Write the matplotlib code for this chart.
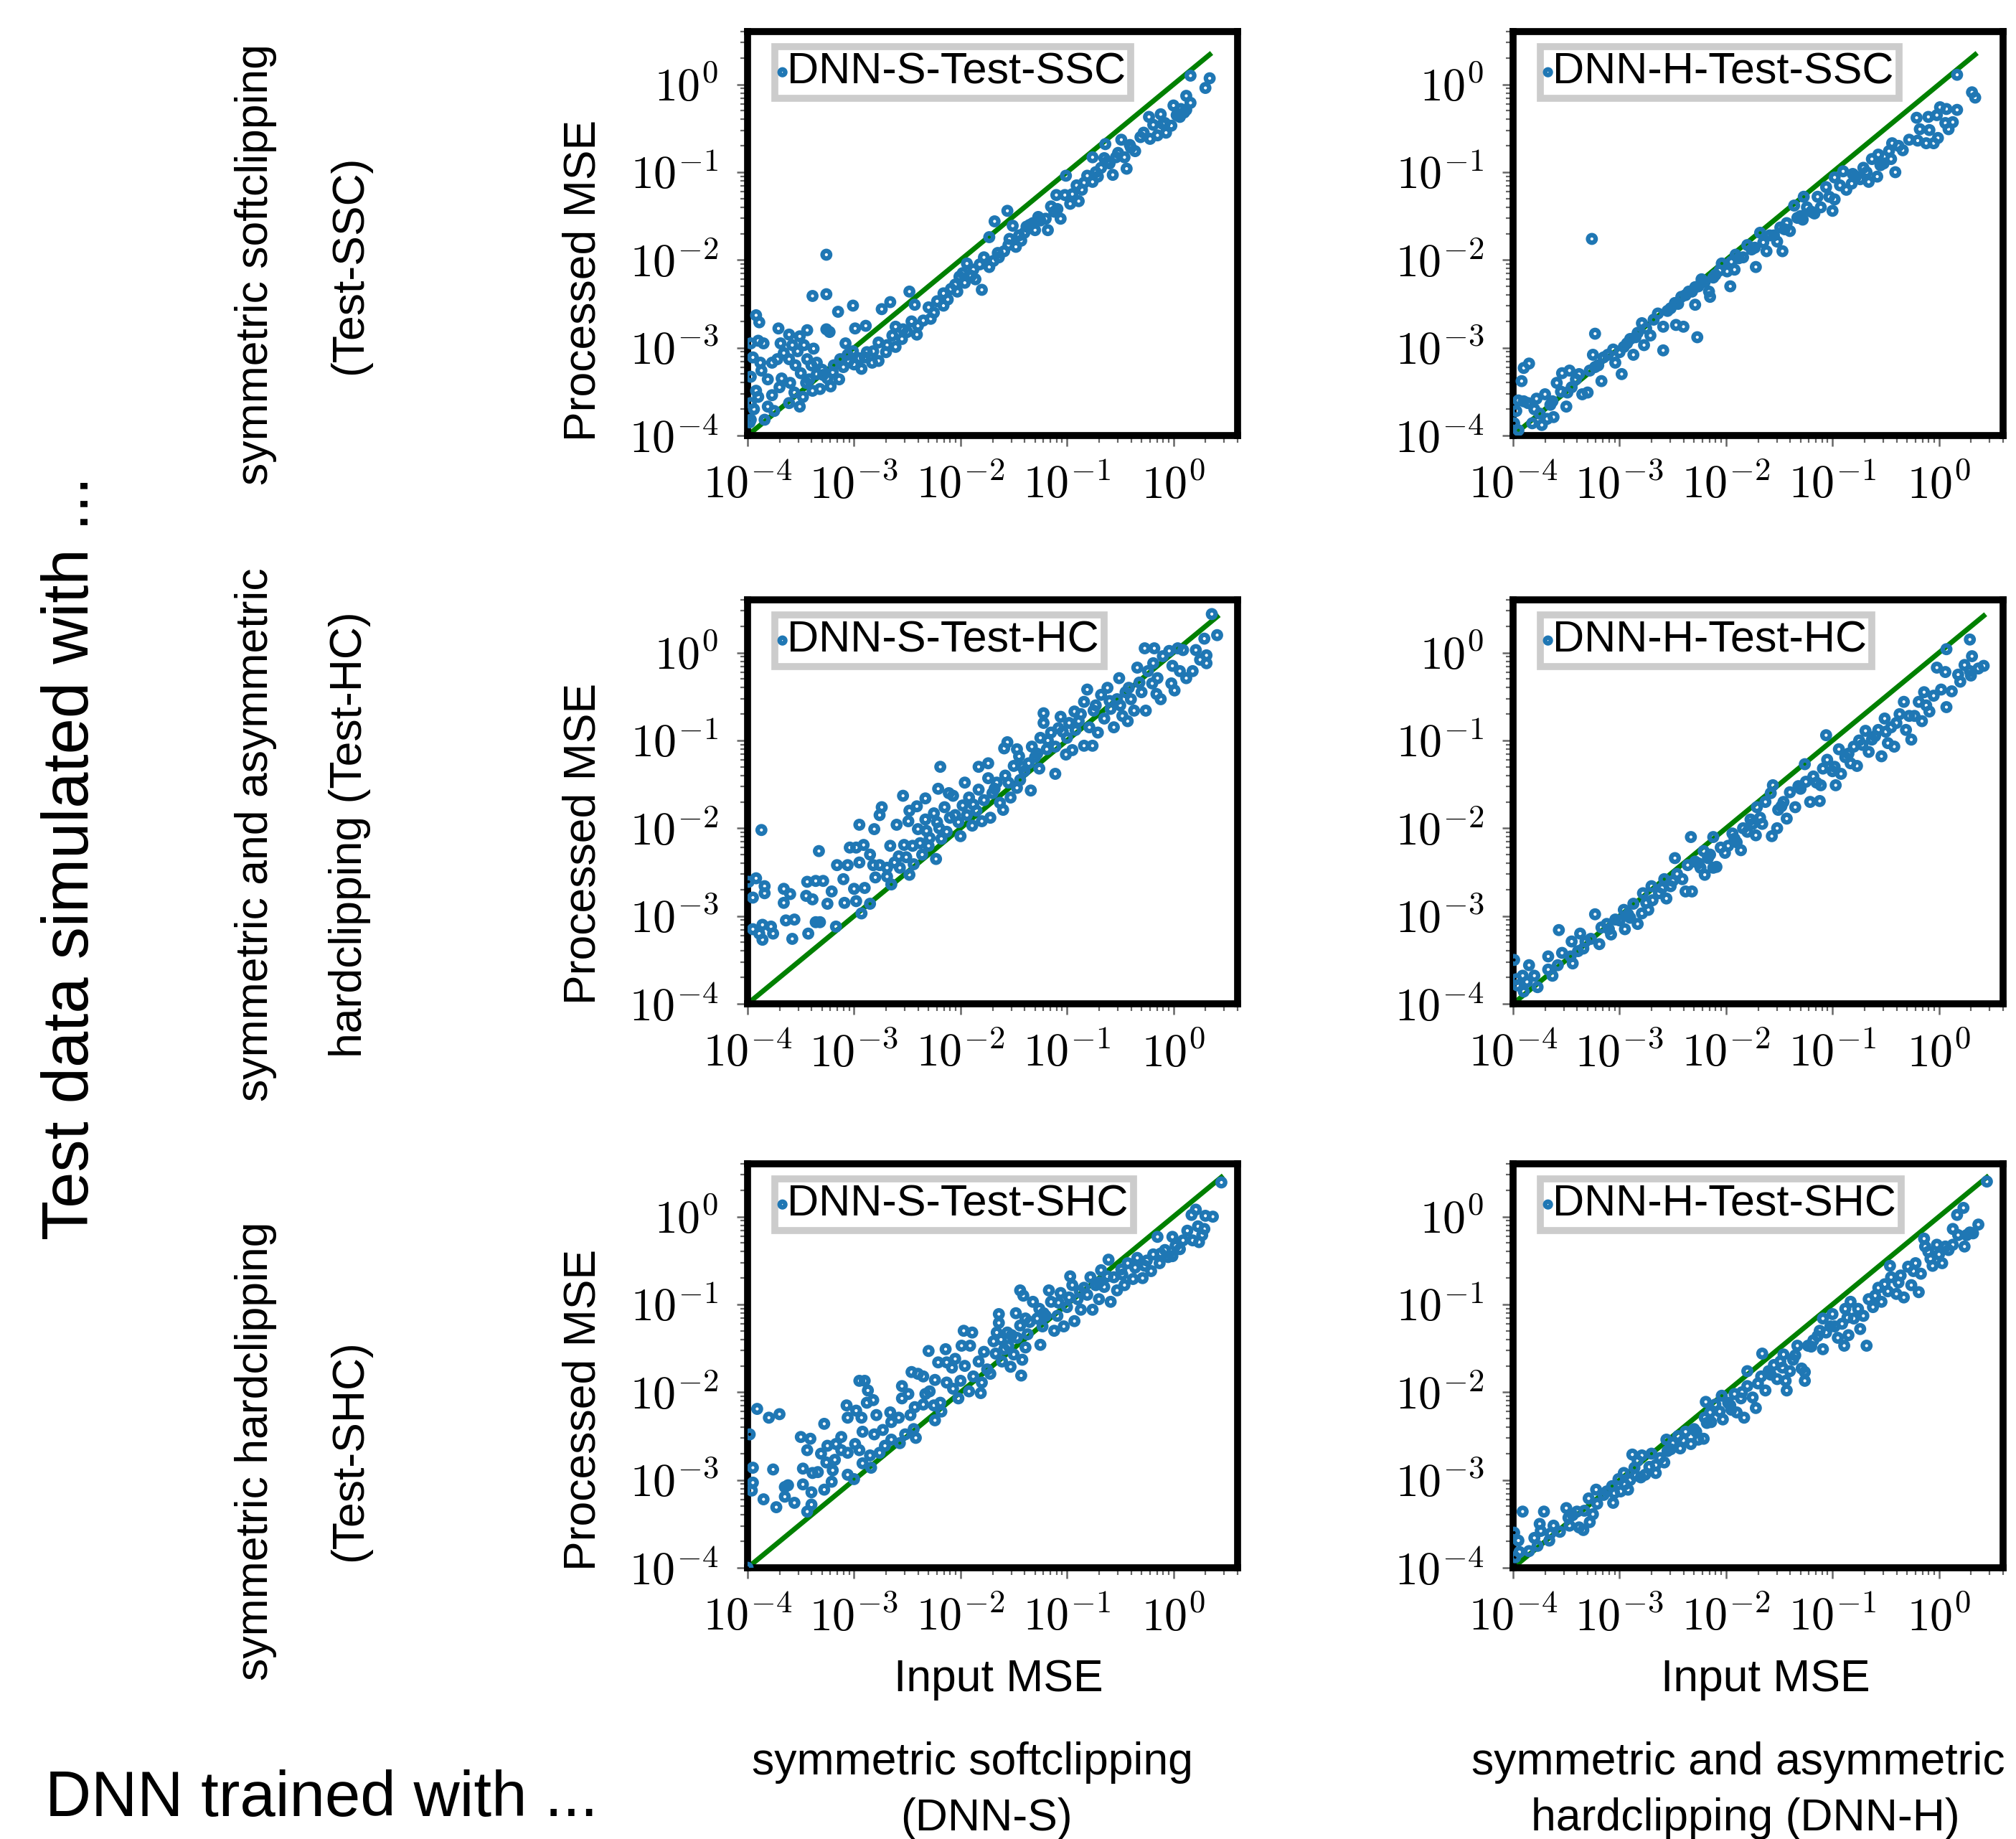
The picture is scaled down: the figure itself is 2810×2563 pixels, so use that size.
import numpy as np
import matplotlib
matplotlib.use('Agg')
from matplotlib import pyplot as plt
from matplotlib.ticker import LogLocator, FuncFormatter, NullFormatter

# (log10 input MSE, log10 processed MSE)
s_ssc = [(-3.26,-1.94),(-3.39,-2.41),(-3.26,-2.39),(-3.15,-2.59),(-3.01,-2.52),(-3.92,-2.63),(-3.89,-2.71),
    (-3.71,-2.78),(-3.61,-2.85),(-3.44,-2.80),(-3.51,-2.87),(-3.26,-2.79),(-3.23,-2.82),(-2.99,-2.78),(-2.89,-2.75),
    (-2.74,-2.56),(-2.66,-2.48),(-2.48,-2.36),(-2.43,-2.51),(-1.80,-2.34),(-1.56,-1.44),(-1.68,-1.56),(-0.64,-0.68),
    (-0.44,-0.96),(0.16,0.10),(0.30,-0.04),(0.34,0.07),(-1.01,-1.04),
    (-3.98,-3.85),(-3.97,-3.82),(-3.84,-3.82),(-3.97,-3.33),(-3.95,-3.11),(-3.97,-2.95),(-3.90,-2.92),(-3.85,-2.95),
    (-3.88,-3.17),(-3.92,-3.49),(-3.90,-3.56),(-3.97,-3.63),(-3.94,-3.70),(-3.87,-3.26),(-3.81,-3.36),(-3.77,-3.17),
    (-3.72,-3.13),(-3.69,-2.95),(-3.66,-3.06),(-3.61,-3.13),(-3.68,-3.35),(-3.77,-3.54),(-3.81,-3.67),(-3.75,-3.72),
    (-3.61,-3.63),(-3.51,-3.67),(-3.56,-3.51),(-3.48,-3.56),(-3.50,-3.29),(-3.53,-3.04),(-3.47,-2.97),(-3.58,-2.97),
    (-3.44,-3.13),(-3.38,-3.01),(-3.35,-3.17),(-3.39,-3.49),(-3.32,-3.47),(-3.42,-3.36),(-3.29,-3.31),(-3.22,-3.44),
    (-3.14,-3.36),(-3.19,-3.20),(-3.13,-3.13),(-3.06,-3.08),(-3.08,-2.95),(-3.00,-3.19),(-3.01,-3.04),(-2.93,-3.24),
    (-2.90,-3.11),(-2.83,-3.17),(-2.77,-3.15),(-2.82,-3.04),(-2.77,-2.94),(-2.69,-2.97),(-2.61,-2.99),(-2.64,-2.86),
    (-2.54,-2.79),(-2.61,-2.76),(-2.46,-2.70),(-2.41,-2.85),(-2.35,-2.69),(-2.30,-2.54),(-2.28,-2.67),(-2.22,-2.47),
    (-2.16,-2.52),(-2.16,-2.38),(-2.09,-2.33),(-2.03,-2.36),(-2.01,-2.19),(-1.96,-2.26),(-1.94,-2.04),(-1.88,-2.11),
    (-1.86,-2.22),(-1.78,-1.97),(-1.73,-2.08),(-1.69,-2.01),(-1.73,-1.74),(-1.64,-1.97),(-1.59,-1.90),(-1.54,-1.76),
    (-1.51,-1.61),(-1.48,-1.85),(-1.43,-1.78),(-1.40,-1.69),(-1.35,-1.60),(-1.30,-1.66),(-1.27,-1.51),(-1.18,-1.66),
    (-1.20,-1.53),(-1.15,-1.39),(-1.09,-1.42),(-1.06,-1.53),(-1.10,-1.26),(-1.02,-1.26),(-0.97,-1.36),(-0.89,-1.33),
    (-0.91,-1.15),(-0.86,-1.20),(-0.81,-1.04),(-0.76,-1.11),(-0.76,-0.83),(-0.71,-1.05),(-0.68,-0.95),(-0.65,-0.84),
    (-0.60,-0.90),(-0.57,-1.03),(-0.54,-0.83),(-0.49,-0.63),(-0.46,-0.83),(-0.41,-0.69),(-0.36,-0.76),(-0.31,-0.60),
    (-0.22,-0.62),(-0.23,-0.37),(-0.19,-0.46),(-0.15,-0.58),(-0.12,-0.34),(-0.07,-0.55),(-0.08,-0.44),(0.00,-0.24),
    (-0.02,-0.47),(0.06,-0.37),(0.07,-0.28),(0.12,-0.29),(0.12,-0.13),(0.16,-0.21),
    (-3.30,-3.25),(-3.20,-3.28),(-3.10,-3.22),(-3.05,-3.15),(-2.95,-3.12),(-2.88,-3.05),(-2.70,-3.05),(-2.55,-2.90),
    (-2.50,-2.82),(-2.40,-2.75),(-2.25,-2.60),(-2.12,-2.45),(-2.05,-2.28),(-1.98,-2.15),(-1.90,-2.18),(-1.82,-2.05),
    (-1.65,-1.92),(-1.55,-1.83),(-1.45,-1.72),(-1.38,-1.62),(-1.32,-1.58),(-1.25,-1.55),(-1.12,-1.45),(-0.95,-1.25),
    (-0.84,-1.12),(-0.73,-1.00),(-0.62,-0.88),(-0.52,-0.78),(-0.40,-0.72),(-0.28,-0.55),(-0.10,-0.45),(0.03,-0.35),
    (0.10,-0.32),(-3.60,-3.40),(-3.70,-3.45),(-3.55,-3.20),(-3.45,-3.40),(-3.40,-3.20),(-3.25,-3.35),(-3.35,-3.30)]

h_ssc = [(-3.26,-1.76),(-3.23,-2.84),(-2.27,-2.88),(-2.59,-3.03),(-3.85,-3.18),(-3.90,-3.23),(-3.92,-3.38),
    (-2.98,-3.30),(-2.29,-2.51),(-1.96,-2.30),(-1.47,-1.90),(-1.00,-1.44),(-0.41,-1.00),(0.17,0.11),(0.31,-0.09),
    (0.34,-0.15),(-0.05,-0.67),
    (-3.99,-3.86),(-3.95,-3.94),(-3.97,-3.72),(-3.95,-3.60),(-3.90,-3.61),(-3.86,-3.63),(-3.82,-3.86),(-3.73,-3.88),
    (-3.78,-3.58),(-3.70,-3.53),(-3.68,-3.81),(-3.62,-3.79),(-3.63,-3.61),(-3.59,-3.40),(-3.54,-3.29),(-3.50,-3.67),
    (-3.49,-3.51),(-3.47,-3.26),(-3.41,-3.36),(-3.35,-3.53),(-3.30,-3.51),(-3.28,-3.26),(-3.25,-3.08),(-3.23,-3.22),
    (-3.17,-3.38),(-3.15,-3.11),(-3.11,-3.08),(-3.06,-3.02),(-3.04,-3.17),(-2.96,-2.99),(-2.90,-2.90),(-2.87,-3.08),
    (-2.83,-2.83),(-2.79,-2.72),(-2.77,-2.97),(-2.71,-2.86),(-2.64,-2.61),(-2.59,-2.76),(-2.55,-2.58),(-2.48,-2.49),
    (-2.47,-2.74),(-2.40,-2.76),(-2.42,-2.42),(-2.35,-2.36),(-2.29,-2.31),(-2.23,-2.22),(-2.16,-2.36),(-2.15,-2.42),
    (-2.10,-2.17),(-2.04,-2.04),(-1.99,-2.13),(-1.92,-2.11),(-1.91,-1.94),(-1.84,-1.97),(-1.80,-1.83),(-1.73,-1.86),
    (-1.72,-2.08),(-1.68,-1.69),(-1.62,-1.90),(-1.59,-1.72),(-1.52,-1.79),(-1.49,-1.63),(-1.43,-1.58),(-1.40,-1.67),
    (-1.36,-1.38),(-1.33,-1.52),(-1.28,-1.54),(-1.27,-1.28),(-1.24,-1.40),(-1.17,-1.47),(-1.14,-1.28),(-1.11,-1.40),
    (-1.06,-1.17),(-1.03,-1.28),(-0.98,-1.31),(-0.98,-1.06),(-0.90,-0.99),(-0.87,-1.20),(-0.82,-1.13),(-0.81,-1.02),
    (-0.74,-1.08),(-0.71,-0.95),(-0.66,-1.11),(-0.63,-0.85),(-0.58,-1.05),(-0.57,-0.80),(-0.52,-0.90),(-0.47,-0.76),
    (-0.44,-0.67),(-0.38,-0.70),(-0.34,-0.75),(-0.28,-0.63),(-0.21,-0.38),(-0.20,-0.64),(-0.18,-0.51),(-0.12,-0.67),
    (-0.10,-0.37),(-0.09,-0.52),(-0.02,-0.35),(-0.01,-0.61),(0.01,-0.26),(0.06,-0.44),(0.07,-0.28),(0.09,-0.51),
    (0.13,-0.43),(0.17,-0.29),
    (-3.80,-3.70),(-3.75,-3.75),(-3.65,-3.65),(-3.55,-3.50),(-3.45,-3.45),(-3.38,-3.30),(-3.20,-3.20),(-3.00,-3.05),
    (-2.93,-2.95),(-2.85,-2.88),(-2.75,-2.78),(-2.68,-2.68),(-2.52,-2.55),(-2.45,-2.50),(-2.38,-2.40),(-2.32,-2.36),
    (-2.26,-2.30),(-2.20,-2.25),(-2.12,-2.20),(-2.06,-2.12),(-1.95,-2.02),(-1.88,-1.98),(-1.76,-1.88),(-1.65,-1.80),
    (-1.55,-1.72),(-1.45,-1.65),(-1.30,-1.50),(-1.20,-1.45),(-0.93,-1.15),(-0.78,-1.05),(-0.68,-1.00),(-0.55,-0.92),
    (-0.45,-0.85)]

s_hc = [(-3.87,-2.02),(-3.99,-2.61),(-3.92,-2.57),(-3.95,-2.79),(-3.84,-2.66),(-3.84,-2.74),(-3.95,-3.15),
    (-3.86,-3.10),(-3.89,-3.20),(-3.86,-3.27),(-3.78,-3.12),(-3.76,-3.20),(-3.66,-2.69),(-3.60,-2.75),(-3.66,-2.85),
    (-3.64,-3.05),(-3.56,-3.04),(-3.58,-3.26),(-3.43,-3.20),(-3.33,-2.26),(-3.44,-2.61),(-3.45,-2.77),(-3.39,-2.81),
    (-3.36,-2.60),(-3.29,-2.60),(-3.36,-3.07),(-3.32,-3.07),(-3.25,-2.86),(-3.21,-2.72),(-3.17,-3.12),(-3.16,-2.42),
    (-3.06,-2.42),(-3.10,-2.58),(-3.09,-2.85),(-3.04,-2.22),(-2.98,-2.22),(-3.00,-2.69),(-2.98,-2.83),(-2.93,-2.97),
    (-2.91,-2.19),(-2.95,-1.96),(-2.95,-2.39),(-2.90,-2.68),(-2.85,-2.86),(-2.85,-2.30),(-2.82,-2.42),(-2.80,-2.56),
    (-2.81,-2.01),(-2.76,-1.85),(-2.74,-1.76),(-2.76,-2.42),(-2.69,-2.45),(-2.69,-2.55),(-2.66,-2.20),(-2.65,-2.64),
    (-2.62,-2.39),(-2.58,-2.32),(-2.60,-1.96),(-2.57,-2.45),(-2.54,-1.63),(-2.53,-2.19),(-2.51,-2.33),(-2.49,-1.92),
    (-2.48,-1.80),(-2.48,-2.53),(-2.44,-2.41),(-2.41,-1.75),(-2.40,-2.01),(-2.38,-2.17),(-2.36,-2.30),(-2.33,-1.90),
    (-2.33,-1.66),(-2.32,-2.03),(-2.29,-2.11),(-2.25,-1.83),(-2.23,-2.35),(-2.22,-1.93),(-2.21,-1.55),(-2.19,-1.30),
    (-2.18,-2.12),(-2.15,-1.76),(-2.13,-2.04),(-2.11,-1.60),(-2.10,-1.88),(-2.07,-1.63),(-2.02,-1.93),(-2.00,-2.09),
    (-1.98,-1.74),(-1.96,-1.48),(-1.94,-1.85),(-1.89,-1.97),(-1.88,-1.73),(-1.83,-1.30),(-1.83,-1.56),(-1.80,-1.92),
    (-1.78,-1.68),(-1.74,-1.26),(-1.74,-1.43),(-1.72,-1.88),(-1.70,-1.60),(-1.66,-1.48),(-1.63,-1.71),(-1.60,-1.79),
    (-1.59,-1.09),(-1.56,-1.02),(-1.55,-1.48),(-1.53,-1.65),(-1.50,-1.29),(-1.47,-1.10),(-1.47,-1.54),(-1.45,-1.18),
    (-1.44,-1.45),(-1.40,-1.35),(-1.36,-1.26),(-1.34,-1.57),(-1.33,-1.07),(-1.30,-1.19),(-1.26,-1.32),(-1.25,-0.97),
    (-1.22,-0.69),(-1.22,-0.80),(-1.19,-1.10),(-1.15,-0.91),(-1.11,-1.38),(-1.11,-1.07),(-1.08,-0.86),(-1.06,-0.73),
    (-1.01,-1.16),(-1.00,-0.97),(-0.95,-1.11),(-0.93,-0.67),(-0.92,-0.88),(-0.89,-0.78),(-0.84,-0.56),(-0.84,-1.06),
    (-0.81,-0.42),(-0.79,-0.85),(-0.76,-1.06),(-0.75,-0.66),(-0.71,-0.91),(-0.68,-0.48),(-0.65,-0.75),(-0.62,-0.40),
    (-0.59,-0.64),(-0.56,-0.85),(-0.53,-0.53),(-0.51,-0.29),(-0.48,-0.72),(-0.45,-0.45),(-0.43,-0.78),(-0.40,-0.53),
    (-0.37,-0.66),(-0.34,-0.17),(-0.32,-0.34),(-0.27,0.05),(-0.26,-0.66),(-0.24,-0.21),(-0.19,-0.12),(-0.18,0.05),
    (-0.16,-0.47),(-0.15,-0.29),(-0.12,-0.53),(-0.10,-0.04),(-0.04,0.02),(-0.02,-0.35),(-0.01,-0.15),(0.01,-0.43),
    (0.04,0.05),(0.06,-0.21),(0.09,0.03),(0.12,-0.29),(0.18,-0.21),(0.21,0.03),(0.25,-0.08),(0.29,0.16),(0.31,-0.03),
    (0.31,-0.12),(0.36,0.44),(0.41,0.20),
    (-2.45,-2.20),(-2.30,-2.20),(-2.20,-2.00),(-2.05,-1.85),(-1.92,-1.65),(-1.85,-1.80),(-1.68,-1.55),(-1.58,-1.40),
    (-1.42,-1.30),(-1.28,-1.15),(-1.18,-1.00),(-1.04,-0.90),(-0.98,-0.80),(-0.87,-0.70),(-0.73,-0.60),(-0.60,-0.55),
    (-0.50,-0.60),(-0.42,-0.40),(-0.30,-0.45),(-0.20,-0.35)]

h_hc = [(-3.99,-3.50),(-3.97,-3.72),(-3.96,-3.79),(-3.91,-3.68),(-3.90,-3.86),(-3.87,-3.75),(-3.85,-3.56),
    (-3.80,-3.68),(-3.77,-3.81),(-3.67,-3.46),(-3.67,-3.61),(-3.63,-3.68),(-3.57,-3.16),(-3.58,-3.56),(-3.54,-3.42),
    (-3.45,-3.29),(-3.46,-3.46),(-3.44,-3.54),(-3.39,-3.40),(-3.37,-3.20),(-3.34,-3.37),(-3.32,-3.29),(-3.27,-3.26),
    (-3.23,-2.98),(-3.19,-3.32),(-3.17,-3.13),(-3.12,-3.09),(-3.08,-3.21),(-3.04,-3.04),(-2.96,-2.93),(-2.95,-3.15),
    (-2.90,-3.02),(-2.87,-2.86),(-2.83,-3.09),(-2.79,-2.97),(-2.78,-2.74),(-2.73,-2.93),(-2.70,-2.66),(-2.69,-2.82),
    (-2.63,-2.74),(-2.58,-2.58),(-2.56,-2.80),(-2.52,-2.66),(-2.48,-2.34),(-2.46,-2.52),(-2.41,-2.58),(-2.38,-2.72),
    (-2.36,-2.42),(-2.32,-2.72),(-2.33,-2.10),(-2.29,-2.38),(-2.24,-2.45),(-2.21,-2.26),(-2.20,-2.53),(-2.17,-2.34),
    (-2.12,-2.10),(-2.12,-2.45),(-2.09,-2.44),(-2.01,-2.28),(-1.98,-2.20),(-1.94,-2.06),(-1.90,-2.16),(-1.86,-2.25),
    (-1.84,-2.00),(-1.80,-2.04),(-1.77,-1.90),(-1.72,-2.08),(-1.71,-1.76),(-1.66,-1.95),(-1.63,-1.70),(-1.58,-1.60),
    (-1.57,-2.09),(-1.56,-1.51),(-1.52,-2.00),(-1.51,-1.79),(-1.46,-1.70),(-1.43,-1.89),(-1.40,-1.59),(-1.35,-1.76),
    (-1.32,-1.52),(-1.26,-1.27),(-1.25,-1.47),(-1.21,-1.70),(-1.18,-1.41),(-1.12,-1.69),(-1.11,-1.51),(-1.09,-1.32),
    (-1.06,-0.94),(-1.05,-1.22),(-1.00,-1.35),(-0.97,-1.51),(-0.94,-1.10),(-0.92,-1.38),(-0.88,-1.19),(-0.83,-1.26),
    (-0.80,-1.07),(-0.77,-1.29),(-0.75,-1.00),(-0.69,-0.89),(-0.66,-1.13),(-0.63,-0.99),(-0.57,-0.88),(-0.54,-1.18),
    (-0.51,-0.75),(-0.48,-1.03),(-0.45,-0.85),(-0.42,-1.07),(-0.37,-0.70),(-0.33,-0.56),(-0.31,-0.88),(-0.26,-0.99),
    (-0.23,-0.72),(-0.19,-0.56),(-0.16,-0.78),(-0.14,-0.45),(-0.09,-0.67),(-0.05,-0.49),(0.02,-0.42),(-0.02,-0.17),
    (0.06,-0.22),(0.07,0.04),(0.07,-0.62),(0.12,-0.44),(0.18,-0.25),(0.20,-0.33),(0.24,-0.14),(0.29,-0.21),
    (0.30,-0.26),(0.29,0.15),(0.31,-0.04),(0.37,-0.18),(0.42,-0.15),
    (-3.10,-3.15),(-3.00,-3.05),(-2.92,-2.98),(-2.75,-2.85),(-2.60,-2.68),(-2.50,-2.60),(-2.26,-2.40),(-2.15,-2.30),
    (-2.05,-2.22),(-1.92,-2.12),(-1.75,-1.95),(-1.68,-1.88),(-1.48,-1.75),(-1.30,-1.55),(-1.15,-1.48),(-0.98,-1.30),
    (-0.85,-1.15),(-0.72,-1.05),(-0.60,-0.95),(-0.50,-0.90),(-0.40,-0.80),(-0.28,-0.72),(-0.12,-0.60)]

s_shc = [(-4.00,-4.00),(-3.98,-2.48),(-3.95,-2.86),(-3.95,-3.03),(-3.96,-3.12),(-3.91,-2.19),(-3.85,-3.22),
    (-3.80,-2.29),(-3.76,-2.88),(-3.73,-3.31),(-3.70,-2.25),(-3.65,-3.19),(-3.65,-3.08),(-3.62,-3.06),(-3.56,-3.26),
    (-3.50,-2.51),(-3.48,-2.87),(-3.48,-3.05),(-3.44,-2.66),(-3.44,-3.36),(-3.41,-2.53),(-3.40,-3.14),(-3.40,-3.28),
    (-3.39,-2.92),(-3.34,-2.91),(-3.31,-2.70),(-3.28,-2.36),(-3.28,-3.11),(-3.26,-2.80),(-3.25,-2.61),(-3.21,-3.02),
    (-3.20,-2.89),(-3.18,-2.77),(-3.17,-2.59),(-3.12,-2.51),(-3.12,-2.66),(-3.07,-2.15),(-3.06,-2.69),(-3.06,-2.29),
    (-3.06,-2.94),(-3.00,-2.99),(-2.99,-2.59),(-2.98,-2.21),(-2.95,-1.87),(-2.95,-2.66),(-2.93,-2.29),(-2.92,-2.81),
    (-2.92,-2.45),(-2.90,-1.87),(-2.88,-2.12),(-2.87,-1.98),(-2.85,-2.72),(-2.84,-2.86),(-2.82,-2.09),(-2.81,-2.48),
    (-2.79,-2.26),(-2.76,-2.69),(-2.73,-2.43),(-2.71,-2.61),(-2.66,-2.23),(-2.65,-2.54),(-2.65,-2.34),(-2.58,-2.29),
    (-2.57,-2.58),(-2.55,-1.93),(-2.55,-2.07),(-2.52,-2.48),(-2.49,-2.02),(-2.47,-2.26),(-2.46,-1.77),(-2.44,-2.42),
    (-2.43,-2.17),(-2.42,-2.52),(-2.40,-1.79),(-2.35,-1.82),(-2.35,-2.14),(-2.33,-2.02),(-2.30,-1.53),(-2.29,-1.99),
    (-2.25,-2.15),(-2.24,-2.32),(-2.24,-1.86),(-2.21,-1.66),(-2.19,-2.12),(-2.18,-2.22),(-2.14,-1.51),(-2.13,-1.89),
    (-2.13,-1.66),(-2.08,-1.72),(-2.07,-1.96),(-2.05,-1.62),(-2.02,-2.07),(-2.00,-1.87),(-1.99,-1.47),(-1.97,-1.30),
    (-1.96,-1.70),(-1.92,-1.99),(-1.91,-1.47),(-1.89,-1.32),(-1.88,-1.82),(-1.83,-1.65),(-1.81,-2.01),(-1.80,-1.89),
    (-1.78,-1.54),(-1.75,-1.74),(-1.72,-1.79),(-1.69,-1.42),(-1.67,-1.56),(-1.66,-1.32),(-1.64,-1.11),(-1.64,-1.21),
    (-1.61,-1.65),(-1.59,-1.51),(-1.56,-1.32),(-1.55,-1.47),(-1.53,-1.71),(-1.50,-1.57),(-1.48,-1.10),(-1.47,-1.38),
    (-1.44,-1.24),(-1.43,-1.81),(-1.42,-1.63),(-1.39,-1.16),(-1.39,-1.49),(-1.37,-1.34),(-1.44,-0.84),(-1.41,-0.90),
    (-1.32,-0.97),(-1.28,-1.16),(-1.26,-1.05),(-1.25,-1.46),(-1.23,-1.25),(-1.20,-1.13),(-1.17,-0.84),(-1.15,-0.97),
    (-1.12,-1.30),(-1.09,-1.13),(-1.06,-0.87),(-1.03,-1.25),(-1.00,-1.03),(-0.97,-0.68),(-0.95,-0.78),(-0.93,-1.19),
    (-0.90,-0.94),(-0.87,-1.06),(-0.84,-0.81),(-0.81,-0.89),(-0.78,-0.69),(-0.76,-1.06),(-0.73,-0.78),(-0.70,-0.94),
    (-0.68,-0.61),(-0.65,-0.80),(-0.61,-0.49),(-0.59,-0.97),(-0.56,-0.69),(-0.53,-0.84),(-0.49,-0.60),(-0.46,-0.78),
    (-0.43,-0.53),(-0.38,-0.71),(-0.34,-0.47),(-0.29,-0.70),(-0.27,-0.56),(-0.21,-0.62),(-0.19,-0.43),(-0.15,-0.23),
    (-0.13,-0.53),(-0.08,-0.38),(-0.05,-0.46),(-0.01,-0.23),(-0.01,-0.45),(0.06,-0.37),(0.09,-0.27),(0.13,-0.16),
    (0.17,0.02),(0.18,-0.27),(0.21,0.08),(0.23,-0.11),(0.24,-0.29),(0.27,-0.21),(0.29,-0.14),(0.30,0.01),(0.37,0.00),
    (0.45,0.39),
    (-1.62,-1.40),(-1.52,-1.35),(-1.35,-1.20),(-1.22,-1.10),(-1.08,-0.98),(-0.98,-0.92),(-0.88,-0.85),(-0.70,-0.75),
    (-0.62,-0.68),(-0.48,-0.66),(-0.36,-0.58),(-0.25,-0.50),(-0.12,-0.42),(0.02,-0.33)]

h_shc = [(-3.99,-3.60),(-3.95,-3.69),(-3.98,-3.88),(-3.94,-3.82),(-3.91,-3.36),(-3.85,-3.81),(-3.80,-3.66),
    (-3.77,-3.75),(-3.75,-3.50),(-3.74,-3.58),(-3.71,-3.36),(-3.66,-3.69),(-3.65,-3.61),(-3.62,-3.52),(-3.56,-3.59),
    (-3.50,-3.32),(-3.48,-3.43),(-3.47,-3.52),(-3.44,-3.40),(-3.40,-3.36),(-3.38,-3.54),(-3.34,-3.57),(-3.33,-3.35),
    (-3.29,-3.21),(-3.28,-3.48),(-3.25,-3.39),(-3.22,-3.11),(-3.21,-3.27),(-3.15,-3.17),(-3.12,-3.13),(-3.07,-3.07),
    (-3.06,-3.26),(-3.01,-2.99),(-2.99,-3.13),(-2.96,-2.92),(-2.92,-3.11),(-2.90,-3.00),(-2.88,-2.71),(-2.86,-2.86),
    (-2.83,-2.78),(-2.80,-2.97),(-2.79,-2.72),(-2.76,-2.94),(-2.70,-2.70),(-2.66,-2.92),(-2.66,-2.83),(-2.58,-2.80),
    (-2.56,-2.54),(-2.55,-2.67),(-2.50,-2.58),(-2.45,-2.50),(-2.43,-2.64),(-2.38,-2.45),(-2.33,-2.59),(-2.30,-2.42),
    (-2.26,-2.54),(-2.21,-2.53),(-2.20,-2.29),(-2.19,-2.11),(-2.15,-2.23),(-2.14,-2.34),(-2.10,-2.14),(-2.04,-2.04),
    (-2.03,-2.31),(-1.98,-2.12),(-1.95,-2.20),(-1.92,-2.02),(-1.90,-2.23),(-1.86,-2.07),(-1.83,-2.29),(-1.80,-1.93),
    (-1.80,-1.76),(-1.75,-2.06),(-1.72,-2.18),(-1.67,-1.82),(-1.66,-1.56),(-1.63,-1.98),(-1.60,-1.76),(-1.55,-1.69),
    (-1.52,-1.85),(-1.49,-1.65),(-1.46,-1.57),(-1.44,-1.87),(-1.43,-1.98),(-1.40,-1.76),(-1.37,-1.63),(-1.33,-1.47),
    (-1.29,-1.73),(-1.26,-1.87),(-1.26,-1.77),(-1.23,-1.47),(-1.18,-1.41),(-1.14,-1.36),(-1.09,-1.16),(-1.09,-1.51),
    (-1.06,-1.32),(-1.02,-1.25),(-1.00,-1.11),(-0.95,-1.38),(-0.91,-1.22),(-0.89,-1.47),(-0.88,-1.05),(-0.83,-0.97),
    (-0.85,-1.35),(-0.80,-1.16),(-0.74,-1.28),(-0.71,-1.13),(-0.68,-1.47),(-0.66,-0.94),(-0.62,-1.03),(-0.57,-0.81),
    (-0.54,-0.97),(-0.51,-0.77),(-0.46,-0.56),(-0.45,-0.69),(-0.40,-0.88),(-0.36,-0.67),(-0.33,-0.92),(-0.29,-0.57),
    (-0.26,-0.78),(-0.22,-0.53),(-0.19,-0.86),(-0.17,-0.65),(-0.14,-0.25),(-0.13,-0.34),(-0.10,-0.40),(-0.06,-0.56),
    (-0.02,-0.32),(0.00,-0.43),(0.03,-0.53),(0.06,-0.34),(0.09,-0.38),(0.13,-0.32),(0.13,-0.14),(0.17,0.02),
    (0.18,-0.21),(0.23,0.10),(0.24,-0.34),(0.26,-0.21),(0.29,-0.18),(0.32,-0.19),(0.37,-0.09),(0.45,0.40),
    (-3.05,-3.15),(-2.95,-3.05),(-2.85,-2.95),(-2.72,-2.85),(-2.62,-2.75),(-2.52,-2.65),(-2.40,-2.55),(-2.28,-2.45),
    (-2.18,-2.35),(-2.06,-2.22),(-1.96,-2.15),(-1.85,-2.00),(-1.70,-1.90),(-1.58,-1.80),(-1.47,-1.72),(-1.35,-1.58),
    (-1.20,-1.48),(-1.12,-1.30),(-0.98,-1.25),(-0.86,-1.15),(-0.76,-1.05),(-0.60,-0.90),(-0.48,-0.85),(-0.38,-0.75),
    (-0.24,-0.62),(-0.08,-0.48)]

panel_names = [['DNN-S-Test-SSC', 'DNN-H-Test-SSC'],
               ['DNN-S-Test-HC', 'DNN-H-Test-HC'],
               ['DNN-S-Test-SHC', 'DNN-H-Test-SHC']]
panel_data = [[s_ssc, h_ssc], [s_hc, h_hc], [s_shc, h_shc]]
row_labels = [('symmetric softclipping', '(Test-SSC)'),
              ('symmetric and asymmetric', 'hardclipping (Test-HC)'),
              ('symmetric hardclipping', '(Test-SHC)')]
col_labels = [('symmetric softclipping', '(DNN-S)'),
              ('symmetric and asymmetric', 'hardclipping (DNN-H)')]

plt.rcParams['font.family'] = ['Liberation Sans', 'DejaVu Sans']
plt.rcParams['mathtext.fontset'] = 'cm'

W, H = 2810, 2563
fig = plt.figure(figsize=(W / 100, H / 100), dpi=100)

def fx(x): return x / W
def fy(y): return 1 - y / H

col_left = [1042, 2109]
row_top = [44, 836, 1622]
ax_w, ax_h = 683, 563
blue = '#1f77b4'
dec = FuncFormatter(lambda v, p: r'$10^{%d}$' % int(round(np.log10(v))))

for r in range(3):
    for c in range(2):
        ax = fig.add_axes([fx(col_left[c]), fy(row_top[r] + ax_h), ax_w / W, ax_h / H])
        d = np.array(panel_data[r][c])
        x, y = 10.0 ** d[:, 0], 10.0 ** d[:, 1]
        ax.plot([1e-4, x.max()], [1e-4, x.max()], color='green', lw=5, zorder=2)
        ax.scatter(x, y, s=58, facecolors='none', edgecolors=blue, linewidths=4.5,
                   zorder=3, label=panel_names[r][c])
        ax.set_xscale('log')
        ax.set_yscale('log')
        ax.set_xlim(1e-4, 4.0)
        ax.set_ylim(1e-4, 4.0)
        for axis in (ax.xaxis, ax.yaxis):
            axis.set_major_locator(LogLocator(base=10, numticks=10))
            axis.set_minor_locator(LogLocator(base=10, subs=np.arange(2, 10), numticks=20))
            axis.set_major_formatter(dec)
            axis.set_minor_formatter(NullFormatter())
        ax.tick_params(which='major', direction='out', length=11, width=1.8, color='#666666',
                       pad=18, labelsize=46)
        ax.tick_params(which='minor', direction='out', length=7, width=1.6, color='#666666')
        for s in ax.spines.values():
            s.set_linewidth(7)
            s.set_color('black')
        leg = ax.legend(loc='upper left', bbox_to_anchor=(0.056, 0.962), borderaxespad=0,
                        fancybox=False, framealpha=1, edgecolor='#cccccc', fontsize=44,
                        borderpad=0.12, handlelength=0.1, handletextpad=0.05, scatterpoints=1,
                        markerscale=0.75)
        leg.get_frame().set_linewidth(7)
        if c == 0:
            fig.text(fx(829), fy([391, 1176, 1965][r]), 'Processed MSE', fontsize=45,
                     rotation=90, rotation_mode='anchor', ha='center', va='baseline')
        if r == 2:
            fig.text(fx([1392, 2461][c]), fy(2357), 'Input MSE', fontsize=45,
                     ha='center', va='baseline')

# row descriptions (test data)
row_mid = [369, 1163, 2022]
for r, (l1, l2) in enumerate(row_labels):
    fig.text(fx(373), fy(row_mid[r]), l1, fontsize=45, rotation=90, rotation_mode='anchor',
             ha='center', va='baseline')
    fig.text(fx(504), fy(row_mid[r]), l2, fontsize=45, rotation=90, rotation_mode='anchor',
             ha='center', va='baseline')

# column descriptions (training data)
col_mid = [(1356, 1375), (2423, 2433)]
for c, (l1, l2) in enumerate(col_labels):
    fig.text(fx(col_mid[c][0]), fy(2473), l1, fontsize=45, ha='center', va='baseline')
    fig.text(fx(col_mid[c][1]), fy(2551), l2, fontsize=45, ha='center', va='baseline')

fig.text(fx(123), fy(1196), 'Test data simulated with ...', fontsize=65, rotation=90,
         rotation_mode='anchor', ha='center', va='baseline')
fig.text(fx(63), fy(2531), 'DNN trained with ...', fontsize=64, ha='left', va='baseline')

fig.savefig('out.png', dpi=100)
